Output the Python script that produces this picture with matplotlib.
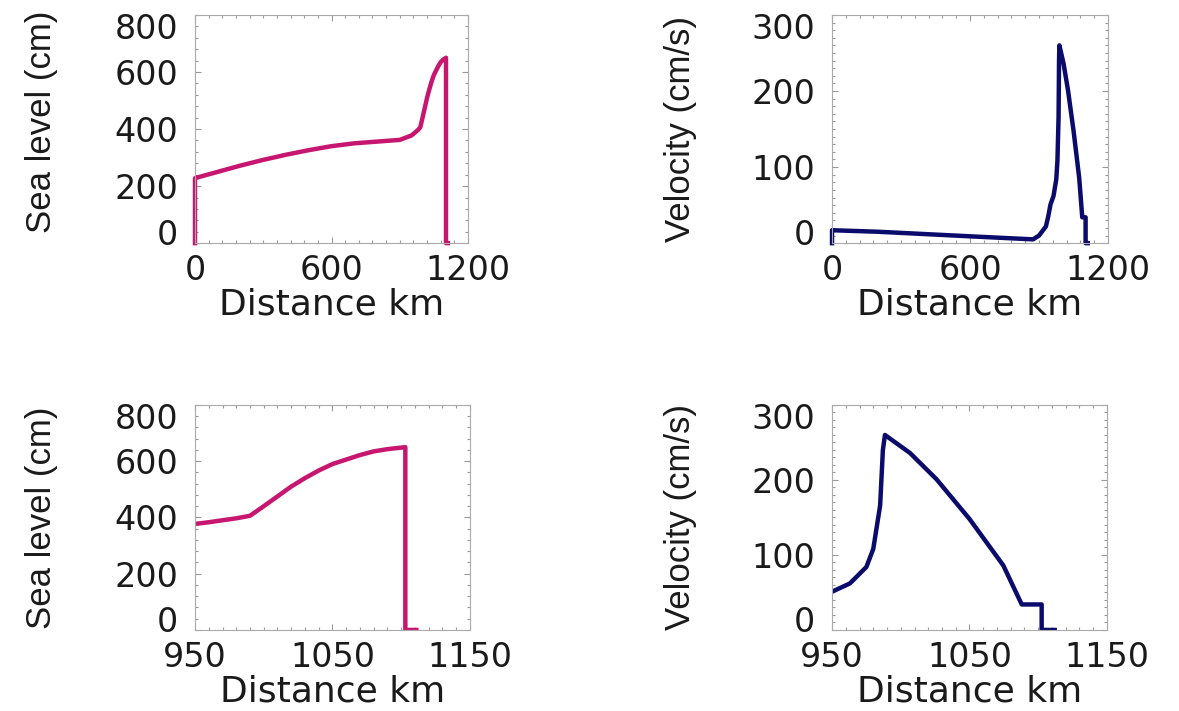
import matplotlib
matplotlib.use("Agg")
import matplotlib.pyplot as plt
from matplotlib.ticker import MultipleLocator
from matplotlib.transforms import ScaledTranslation

# sea level profile (cm) along the channel
sea_dist = [0, 0, 100, 200, 300, 400, 500, 600, 700, 800, 900, 950, 960, 970, 980,
            990, 1000, 1010, 1020, 1030, 1040, 1050, 1060, 1070, 1080, 1090, 1103,
            1103, 1111]
sea_level = [0, 228, 250, 272, 292, 310, 326, 340, 350, 356, 362, 377, 383, 390, 397,
             406, 440, 475, 510, 540, 567, 590, 606, 622, 635, 643, 650,
             0, 0]

# velocity profile (cm/s)
vel_dist = [0, 0, 200, 400, 600, 874, 900, 930, 940, 950, 963, 975, 980, 985, 987,
            988.5, 1006.7, 1026, 1050, 1074.6, 1088, 1102.5, 1102.5, 1112]
velocity = [0, 17, 15, 12, 9, 5, 10, 22, 35, 51, 62, 84, 108, 166, 240,
            260, 236, 201, 148, 86, 34, 34, 0, 0]

sea_color = "#c7166f"
vel_color = "#0b0b6b"

fig = plt.figure(figsize=(11.79, 7.11), dpi=100)

tick_font = {"family": "DejaVu Sans", "size": 24}
xlab_font = {"family": "DejaVu Sans", "size": 26}
ylab_font = {"family": ["Liberation Sans Narrow", "Liberation Sans"], "size": 25}


def style(ax, xlim, xticks, xminor, ylim, yticks, yminor, ylabel, lab_xy):
    ax.set_xlim(*xlim)
    ax.set_ylim(*ylim)
    ax.set_xticks(xticks)
    ax.set_yticks(yticks)
    ax.xaxis.set_minor_locator(MultipleLocator(xminor))
    ax.yaxis.set_minor_locator(MultipleLocator(yminor))
    ax.tick_params(which="both", direction="in", top=True, right=True,
                   color="#999999", width=0.8)
    ax.tick_params(which="major", length=4)
    ax.tick_params(which="minor", length=2)
    ax.tick_params(axis="y", pad=12)
    ax.tick_params(axis="x", pad=8)
    for lab in ax.get_xticklabels() + ax.get_yticklabels():
        lab.set_fontfamily(tick_font["family"])
        lab.set_fontsize(tick_font["size"])
        lab.set_color("#1a1a1a")
    # end labels on the y axis sit a little inside the axis range
    ylabs = ax.get_yticklabels()
    ylabs[0].set_transform(ylabs[0].get_transform() +
                           ScaledTranslation(0, 8 / 72, fig.dpi_scale_trans))
    ylabs[-1].set_transform(ylabs[-1].get_transform() +
                            ScaledTranslation(0, -8 / 72, fig.dpi_scale_trans))
    for s in ax.spines.values():
        s.set_color("#aaaaaa")
        s.set_linewidth(0.8)
    ax.set_xlabel("Distance km", fontdict=xlab_font, labelpad=0, color="#1a1a1a")
    ax.set_ylabel(ylabel, fontdict=ylab_font, color="#1a1a1a")
    ax.yaxis.set_label_coords(*lab_xy)


ax1 = fig.add_axes([0.1654, 0.658, 0.2316, 0.321])
ax1.plot(sea_dist, sea_level, color=sea_color, lw=3.2, solid_joinstyle="round", clip_on=False)
style(ax1, (0, 1200), [0, 600, 1200], 60, (0, 800), [0, 200, 400, 600, 800], 40,
      "Sea level (cm)", (-0.5, 0.53))

ax2 = fig.add_axes([0.7057, 0.658, 0.2341, 0.321])
ax2.plot(vel_dist, velocity, color=vel_color, lw=3.2, solid_joinstyle="round", clip_on=False)
style(ax2, (0, 1200), [0, 600, 1200], 60, (0, 300), [0, 100, 200, 300], 10,
      "Velocity (cm/s)", (-0.49, 0.5))

ax3 = fig.add_axes([0.1654, 0.114, 0.2332, 0.3164])
ax3.plot(sea_dist, sea_level, color=sea_color, lw=3.2, solid_joinstyle="round")
style(ax3, (950, 1150), [950, 1050, 1150], 10, (0, 800), [0, 200, 400, 600, 800], 40,
      "Sea level (cm)", (-0.5, 0.5))

ax4 = fig.add_axes([0.7057, 0.114, 0.2332, 0.3164])
ax4.plot(vel_dist, velocity, color=vel_color, lw=3.2, solid_joinstyle="round")
style(ax4, (950, 1150), [950, 1050, 1150], 10, (0, 300), [0, 100, 200, 300], 10,
      "Velocity (cm/s)", (-0.49, 0.5))

fig.savefig("out.png", dpi=100)
